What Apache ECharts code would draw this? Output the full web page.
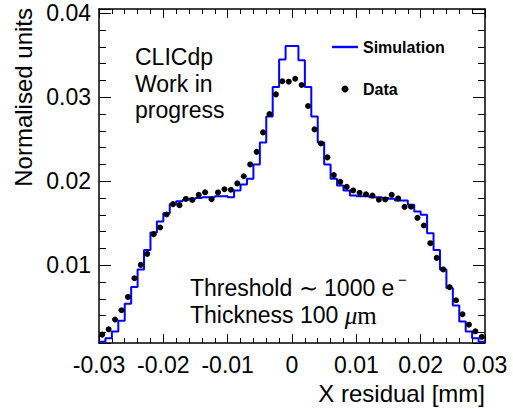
<!DOCTYPE html>
<html><head><meta charset="utf-8">
<script src="https://cdn.jsdelivr.net/npm/echarts@6/dist/echarts.min.js"></script>
<style>html,body{margin:0;padding:0;background:#fff}#c{width:513px;height:409px}</style>
</head><body><div id="c"></div>
<script>
// ---- chart data ----
const xStart = -0.03;      // lower edge of first bin
const binWidth = 0.001;    // bin width (mm)
const xTickLabels = ['-0.03', '-0.02', '-0.01', '0', '0.01', '0.02', '0.03'];
const yTickLabels = ['0.01', '0.02', '0.03', '0.04'];
// Simulation histogram contents (60 bins, -0.03 .. 0.03)
const simValues = [
  0.0009, 0.0013, 0.0021, 0.0034, 0.0054, 0.0074, 0.0095, 0.0118, 0.0139, 0.0152,
  0.0162, 0.0173, 0.0176, 0.0178, 0.0179, 0.0180, 0.0181, 0.0181, 0.0182, 0.0182,
  0.0181, 0.0189, 0.0196, 0.0203, 0.0220, 0.0246, 0.0277, 0.0312, 0.0345, 0.0361,
  0.0361, 0.0344, 0.0312, 0.0277, 0.0246, 0.0220, 0.0203, 0.0195, 0.0189, 0.0183,
  0.0182, 0.0182, 0.0181, 0.0181, 0.0180, 0.0179, 0.0177, 0.0177, 0.0172, 0.0164,
  0.0160, 0.0138, 0.0118, 0.0095, 0.0073, 0.0052, 0.0033, 0.0021, 0.0013, 0.0009
];
// Data points (bin centres)
const dataValues = [
  0.00174, 0.00237, 0.00353, 0.00464, 0.00622, 0.00845, 0.01004, 0.01135, 0.01370, 0.01449,
  0.01604, 0.01727, 0.01715, 0.01789, 0.01777, 0.01838, 0.01868, 0.01785, 0.01866, 0.01904,
  0.01898, 0.01974, 0.02059, 0.02200, 0.02350, 0.02581, 0.02800, 0.03034, 0.03190, 0.03185,
  0.03220, 0.03145, 0.02895, 0.02617, 0.02450, 0.02284, 0.02073, 0.01993, 0.01933, 0.01890,
  0.01862, 0.01845, 0.01829, 0.01779, 0.01783, 0.01838, 0.01795, 0.01695, 0.01696, 0.01564,
  0.01473, 0.01262, 0.01087, 0.00950, 0.00738, 0.00583, 0.00416, 0.00292, 0.00213, 0.00148
];
const yMin = 0.00074, yMax = 0.0405;

// ---- build series data ----
const simLine = simValues.map((v, i) => [xStart + i * binWidth, v]);
simLine.push([xStart + simValues.length * binWidth, simValues[simValues.length - 1]]);
const dataPts = dataValues.map((v, i) => [xStart + (i + 0.5) * binWidth, v]);

const FONT = '"Liberation Sans", Arial, Helvetica, sans-serif';
const SERIF = '"Liberation Serif", "Times New Roman", serif';
const black = '#000';

function xFmt(v) {
  const k = Math.round(v * 100);
  if (Math.abs(v * 100 - k) > 1e-6) return '';
  return xTickLabels[k + 3] || '';
}
function yFmt(v) {
  const k = Math.round(v * 100);
  if (Math.abs(v * 100 - k) > 1e-6) return '';
  return yTickLabels[k - 1] || '';
}

const xAxisBase = {
  type: 'value', min: -0.03, max: 0.03, interval: 0.01,
  axisLine: { show: true, onZero: false, lineStyle: { color: black, width: 1.5 } },
  axisTick: { show: true, inside: true, length: 9, lineStyle: { color: black, width: 1 } },
  minorTick: { show: true, splitNumber: 5, length: 5, lineStyle: { color: black, width: 1 } },
  splitLine: { show: false }
};
const yAxisBase = {
  type: 'value', min: yMin, max: yMax, splitNumber: 4,
  axisLine: { show: true, onZero: false, lineStyle: { color: black, width: 1.5 } },
  axisTick: { show: true, inside: true, length: 12, lineStyle: { color: black, width: 1 } },
  minorTick: { show: true, splitNumber: 5, length: 7, lineStyle: { color: black, width: 1 } },
  splitLine: { show: false }
};

const chart = echarts.init(document.getElementById('c'), null, { renderer: 'svg' });
chart.setOption({
  animation: false,
  backgroundColor: '#fff',
  grid: { left: 99, right: 28, top: 9, bottom: 66 },
  xAxis: [
    Object.assign({}, xAxisBase, { position: 'bottom',
      axisLabel: { show: true, margin: 10, color: black, fontSize: 23, fontFamily: FONT, formatter: xFmt,
        showMinLabel: true, showMaxLabel: true } }),
    Object.assign({}, xAxisBase, { position: 'top', axisLabel: { show: false } })
  ],
  yAxis: [
    Object.assign({}, yAxisBase, { position: 'left',
      axisLabel: { show: true, margin: 8, color: black, fontSize: 23, fontFamily: FONT, formatter: yFmt } }),
    Object.assign({}, yAxisBase, { position: 'right', axisLabel: { show: false } })
  ],
  legend: {
    data: [
      { name: 'Simulation', icon: 'path://M0,0 L26,0 L26,2.4 L0,2.4 Z' },
      { name: 'Data', icon: 'circle' }
    ],
    orient: 'vertical', left: 327, top: 34, itemWidth: 26, itemHeight: 7, itemGap: 26,
    textStyle: { color: black, fontSize: 16, fontWeight: 'bold', fontFamily: FONT },
    selectedMode: false
  },
  series: [
    { name: 'Simulation', type: 'line', step: 'end', data: simLine, symbol: 'none', showSymbol: false,
      lineStyle: { color: '#0000ff', width: 2 }, itemStyle: { color: '#0000ff' }, z: 3 },
    { name: 'Data', type: 'scatter', data: dataPts, symbol: 'circle', symbolSize: 6,
      itemStyle: { color: black, opacity: 1 }, z: 4 }
  ],
  graphic: [
    { type: 'text', x: 135, y: 57, style: { text: 'CLICdp', font: '23px ' + FONT, fill: black, align: 'left', verticalAlign: 'middle' } },
    { type: 'text', x: 135, y: 84, style: { text: 'Work in', font: '23px ' + FONT, fill: black, align: 'left', verticalAlign: 'middle' } },
    { type: 'text', x: 135, y: 110, style: { text: 'progress', font: '23px ' + FONT, fill: black, align: 'left', verticalAlign: 'middle' } },
    { type: 'text', x: 190, y: 288, style: { text: 'Threshold \u223C 1000 e', font: '23px ' + FONT, fill: black, align: 'left', verticalAlign: 'middle' } },
    { type: 'text', x: 398, y: 279, style: { text: '\u2212', font: '15px ' + FONT, fill: black, align: 'left', verticalAlign: 'middle' } },
    { type: 'text', x: 190, y: 315, style: { text: 'Thickness 100 {mu|\u03BC}{m|m}', font: '23px ' + FONT, fill: black, align: 'left', verticalAlign: 'middle',
      rich: { mu: { fontFamily: SERIF, fontStyle: 'italic', fontSize: 25 },
              m: { fontFamily: SERIF, fontSize: 25 } } } },
    { type: 'text', x: 485, y: 393, style: { text: 'X residual [mm]', font: '24px ' + FONT, fill: black, align: 'right', verticalAlign: 'middle' } },
    { type: 'text', x: 23, y: 8, rotation: Math.PI / 2, style: { text: 'Normalised units', font: '24px ' + FONT, fill: black, align: 'right', verticalAlign: 'middle' } }
  ]
});
</script>
</body></html>
